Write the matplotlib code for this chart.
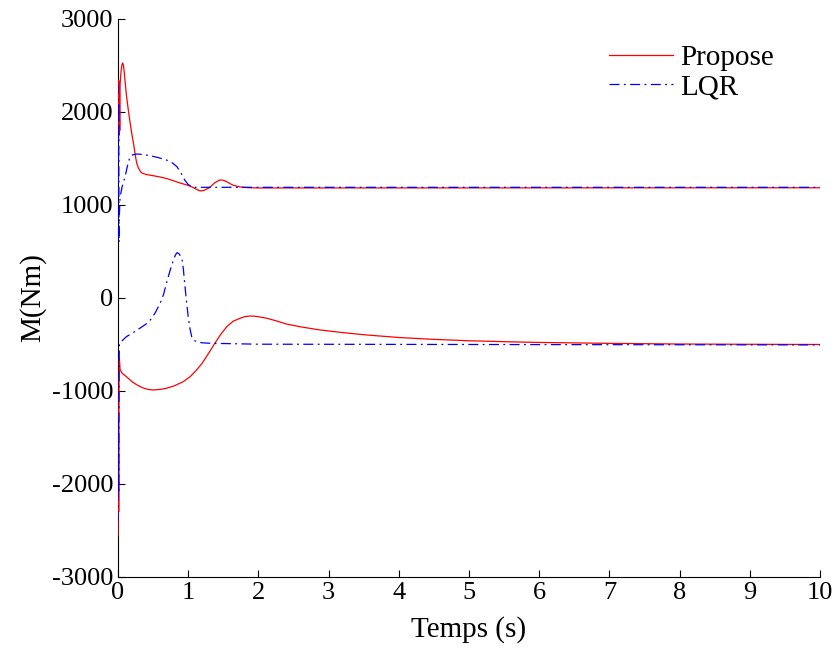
import matplotlib.pyplot as plt

# values (time in s, moment in Nm)
t_prop_up = [0, 0.005, 0.01, 0.015, 0.02, 0.025, 0.03, 0.045, 0.058, 0.067, 0.078, 0.09, 0.105, 0.12,
             0.147, 0.17, 0.195, 0.22, 0.245, 0.266, 0.29, 0.315, 0.34, 0.4, 0.5, 0.6, 0.7, 0.8, 0.88,
             0.95, 1.0, 1.05, 1.1, 1.17, 1.22, 1.3, 1.38, 1.45, 1.5, 1.55, 1.6, 1.65, 1.74, 1.85, 2.0, 10]
m_prop_up = [2150, 1750, 2340, 1750, 2200, 1800, 2300, 2450, 2515, 2527, 2500, 2420, 2300, 2180,
             2021, 1900, 1774, 1667, 1540, 1452, 1400, 1365, 1344, 1328, 1315, 1301, 1283, 1258, 1237,
             1222, 1210, 1195, 1175, 1151, 1155, 1185, 1240, 1269, 1266, 1250, 1228, 1210, 1194, 1186, 1183, 1185]

t_prop_low = [0, 0.005, 0.01, 0.015, 0.02, 0.03, 0.06, 0.12, 0.2, 0.27, 0.35, 0.42, 0.5, 0.6, 0.69,
              0.8, 0.93, 1.03, 1.12, 1.2, 1.26, 1.32, 1.38, 1.46, 1.55, 1.64, 1.74, 1.81, 1.88, 1.95,
              2.05, 2.12, 2.25, 2.4, 2.6, 2.88, 3.2, 3.5, 4, 4.5, 5, 5.5, 6, 7, 8, 9, 10]
m_prop_low = [-2550, -1200, -2300, -900, -650, -774, -810, -846, -900, -935, -965, -982, -989, -983, -971,
              -945, -900, -845, -774, -700, -631, -560, -487, -395, -308, -250, -218, -200, -194, -196,
              -208, -218, -245, -280, -310, -344, -372, -395, -425, -445, -460, -470, -478, -488, -495, -498, -500]

t_lqr_up = [0, 0.005, 0.01, 0.015, 0.02, 0.03, 0.06, 0.1, 0.135, 0.17, 0.21, 0.27, 0.35, 0.46, 0.57,
            0.69, 0.77, 0.84, 0.9, 0.95, 1.0, 1.05, 1.1, 10]
m_lqr_up = [2300, 1100, 2100, 600, 900, 1086, 1200, 1301, 1420, 1516, 1540, 1548, 1543, 1530, 1510,
            1484, 1455, 1412, 1340, 1269, 1220, 1197, 1190, 1190]

t_lqr_low = [0, 0.005, 0.01, 0.015, 0.02, 0.12, 0.22, 0.31, 0.4, 0.46, 0.53, 0.6, 0.65, 0.69, 0.74,
             0.79, 0.82, 0.84, 0.87, 0.91, 0.93, 0.95, 0.975, 1.0, 1.025, 1.05, 1.08, 1.12, 1.2, 1.31, 2, 10]
m_lqr_low = [-2400, -1300, -2100, -800, -487, -416, -370, -326, -280, -237, -160, -57, 40, 158, 290,
             409, 465, 487, 475, 427, 320, 158, -30, -201, -330, -416, -455, -470, -482, -487, -497, -505]

plt.rcParams['font.family'] = ['Liberation Serif', 'DejaVu Serif']
plt.rcParams['axes.unicode_minus'] = False

fig = plt.figure(figsize=(8.38, 6.48), dpi=100)
ax = fig.add_axes([0.1408, 0.1096, 0.8377, 0.8611])

dashdot = (0, (8, 3.5, 1.5, 3.5))
ax.plot(t_prop_up, m_prop_up, color='#ff0000', lw=0.9, label='Propose', zorder=3)
ax.plot(t_lqr_up, m_lqr_up, color='#0000ff', lw=0.9, linestyle=dashdot, label='LQR', zorder=3)
ax.plot(t_prop_low, m_prop_low, color='#ff0000', lw=0.9, zorder=3)
ax.plot(t_lqr_low, m_lqr_low, color='#0000ff', lw=0.9, linestyle=dashdot, zorder=3)

ax.set_xlim(0, 10)
ax.set_ylim(-3000, 3000)
ax.set_xticks(range(0, 11))
ax.set_yticks(range(-3000, 3001, 1000))
ax.tick_params(direction='in', length=5, labelsize=19, width=0.8)
ax.spines['top'].set_visible(False)
ax.spines['right'].set_visible(False)

ax.set_xlabel('Temps (s)', fontsize=21, labelpad=9)
ax.set_ylabel('M(Nm)', fontsize=21, labelpad=4)

ax.legend(loc='upper right', frameon=False, fontsize=21, handlelength=2.2,
          handletextpad=0.25, labelspacing=0.1, borderaxespad=0.1,
          bbox_to_anchor=(0.955, 0.98))

fig.savefig('out.png', dpi=100)
